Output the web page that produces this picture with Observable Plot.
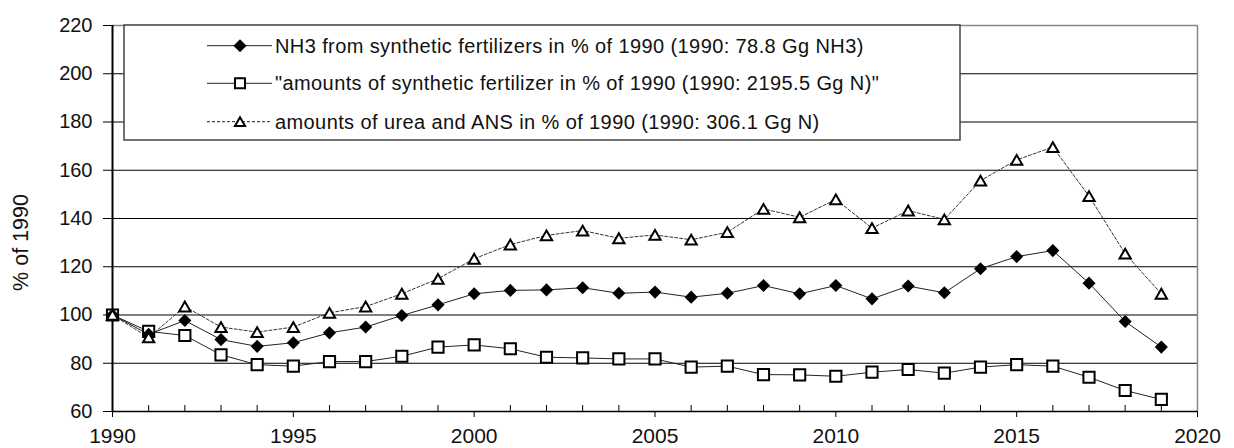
<!DOCTYPE html>
<html><head><meta charset="utf-8">
<script src="https://cdn.jsdelivr.net/npm/d3@7"></script>
<script src="https://cdn.jsdelivr.net/npm/@observablehq/plot@0.6"></script>
<style>body{margin:0;background:#fff}#chart{position:relative;width:1234px;height:448px}</style>
</head><body><div id="chart"></div>
<script>
const years = [1990,1991,1992,1993,1994,1995,1996,1997,1998,1999,2000,2001,2002,2003,2004,2005,2006,2007,2008,2009,2010,2011,2012,2013,2014,2015,2016,2017,2018,2019];
const nh3  = [100,92,97.7,89.8,87,88.5,92.6,95,99.8,104.2,108.8,110.2,110.4,111.3,109,109.5,107.4,109,112.2,108.8,112.2,106.7,112,109.2,119.2,124.2,126.7,113.2,97.3,86.7];
const fert = [100,93.2,91.5,83.5,79.4,78.8,80.7,80.7,82.9,86.7,87.6,86,82.5,82.2,81.8,81.8,78.4,78.8,75.3,75.2,74.6,76.3,77.4,75.9,78.4,79.4,78.8,74.2,68.7,65];
const urea = [100,90.7,103.5,95,92.9,95,100.9,103.5,108.8,115,123.3,129.2,133,135,131.8,133.2,131.2,134.3,144,140.5,147.9,136,143.3,139.6,155.7,164.3,169.6,149.3,125.4,108.8];
const yTicks = [60,80,100,120,140,160,180,200,220];
const xTicks = [1990,1995,2000,2005,2010,2015,2020];
const minorTicks = [1991,1992,1993,1994,1996,1997,1998,1999,2001,2002,2003,2004,2006,2007,2008,2009,2011,2012,2013,2014,2016,2017,2018,2019];
const yLabel = "% of 1990";
const legendLabels = [
  "NH3 from synthetic fertilizers in % of 1990 (1990: 78.8 Gg NH3)",
  "\"amounts of synthetic fertilizer in % of 1990 (1990: 2195.5 Gg N)\"",
  "amounts of urea and ANS in % of 1990 (1990: 306.1 Gg N)"
];

const data = years.map((year, i) => ({year, nh3: nh3[i], fert: fert[i], urea: urea[i]}));
const font = "'Liberation Sans', Arial, sans-serif";

const svg = Plot.plot({
  width: 1234, height: 448,
  marginLeft: 112, marginRight: 37, marginTop: 25, marginBottom: 37,
  x: {domain: [1990, 2020]},
  y: {domain: [60, 220]},
  style: {fontFamily: font, fontSize: "20px", color: "#111", background: "white"},
  marks: [
    Plot.ruleY(yTicks.filter(d => d > 60 && d < 220), {stroke: "#000", strokeWidth: 1}),
    Plot.ruleY([220], {stroke: "#888", strokeWidth: 1.5}),
    Plot.ruleX([2020], {stroke: "#888", strokeWidth: 1.5}),
    Plot.axisY({ticks: yTicks, tickSize: 9, tickPadding: 11, label: null, fontSize: 20, stroke: "#000"}),
    Plot.axisX({ticks: minorTicks, tickSize: -6, tickFormat: () => "", label: null, stroke: "#000"}),
    Plot.axisX({ticks: xTicks, tickSize: 6, tickPadding: 11, tickFormat: "d", label: null, fontSize: 21, stroke: "#000"}),
    Plot.ruleY([60], {stroke: "#000", strokeWidth: 1.5}),
    Plot.ruleX([1990], {stroke: "#000", strokeWidth: 2}),
    Plot.line(data, {x: "year", y: "urea", stroke: "#333", strokeWidth: 1, strokeDasharray: "3,2"}),
    Plot.line(data, {x: "year", y: "fert", stroke: "#222", strokeWidth: 1}),
    Plot.line(data, {x: "year", y: "nh3", stroke: "#222", strokeWidth: 1}),
    Plot.dot(data, {x: "year", y: "fert", symbol: "square", r: 6.3, fill: "white", stroke: "#000", strokeWidth: 2}),
    Plot.dot(data, {x: "year", y: "nh3", symbol: "diamond2", r: 5.9, fill: "#000", stroke: "none"}),
    Plot.dot(data, {x: "year", y: "urea", symbol: "triangle", r: 4.2, fill: "white", stroke: "#000", strokeWidth: 2, dy: 1.6}),
    Plot.text([yLabel], {frameAnchor: "left", textAnchor: "middle", rotate: -90, dx: -91, dy: 24, fontSize: 21.5, fill: "#111"})
  ]
});

// legend box
const g = d3.select(svg).append("g").attr("font-family", font).attr("text-anchor", "start");
g.append("rect").attr("x", 124).attr("y", 25).attr("width", 836).attr("height", 115)
  .attr("fill", "white").attr("stroke", "#444").attr("stroke-width", 1.5);
const rowsY = [45.7, 83.3, 121.7];
const symbols = [
  {type: d3.symbolDiamond2, size: Math.PI * 5.9 * 5.9, fill: "#000", stroke: "none", sw: 0, dash: null, dy: 0},
  {type: d3.symbolSquare, size: Math.PI * 6.3 * 6.3 * 0.8, fill: "white", stroke: "#000", sw: 2, dash: null, dy: 0},
  {type: d3.symbolTriangle, size: Math.PI * 4.2 * 4.2 * 0.8, fill: "white", stroke: "#000", sw: 2, dash: "3,2", dy: 1.3}
];
legendLabels.forEach((label, i) => {
  const y = rowsY[i], s = symbols[i];
  g.append("line").attr("x1", 207).attr("x2", 272).attr("y1", y).attr("y2", y)
    .attr("stroke", "#222").attr("stroke-width", 1).attr("stroke-dasharray", s.dash);
  g.append("path").attr("d", d3.symbol(s.type, s.size)()).attr("transform", `translate(240,${y + s.dy})`)
    .attr("fill", s.fill).attr("stroke", s.stroke).attr("stroke-width", s.sw);
  g.append("text").attr("x", 275).attr("y", y).attr("dy", "0.35em").attr("font-size", 20)
    .attr("text-anchor", "start").attr("letter-spacing", 0.4).attr("fill", "#111").text(label);
});

document.getElementById("chart").appendChild(svg);
</script></body></html>
